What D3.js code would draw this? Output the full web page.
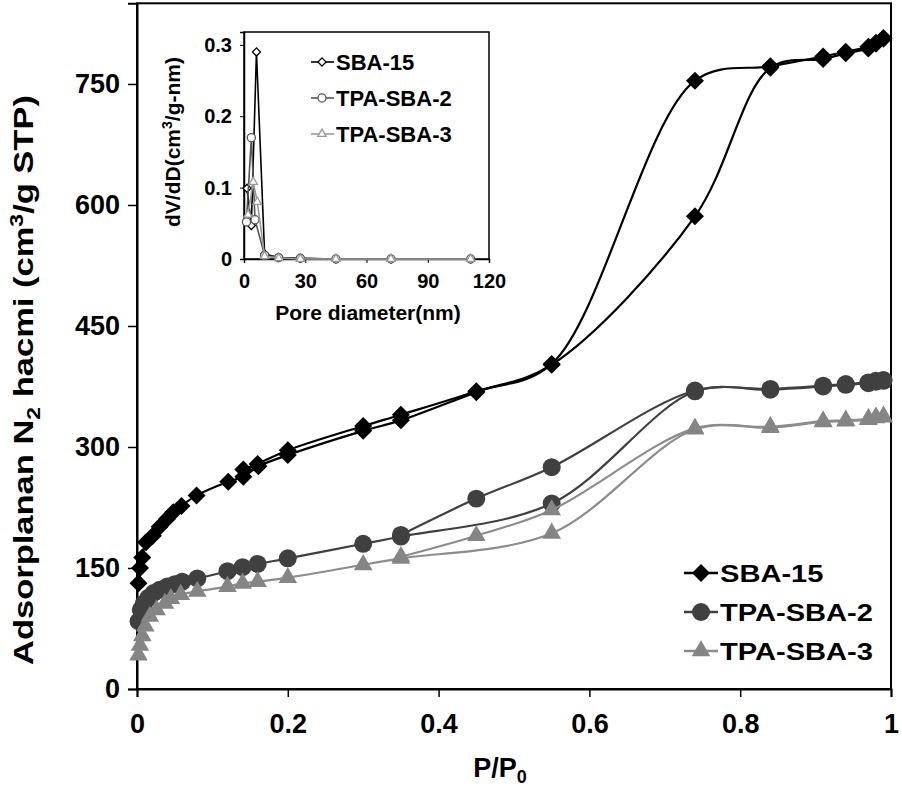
<!DOCTYPE html>
<html>
<head>
<meta charset="utf-8">
<title>N2 isotherms</title>
<script src="https://cdn.jsdelivr.net/npm/d3@7"></script>
<style>
  body { margin: 0; background: #fff; }
  text { font-family: "Liberation Sans", Arial, sans-serif; font-weight: bold; fill: #000; }
</style>
</head>
<body>
<div id="chart"></div>
<script>
// isotherm points, [P/P0, adsorbed volume]
var sba15Ads = [[0.002,131],[0.004,150],[0.007,163],[0.012,182],[0.021,190],[0.03,201],[0.04,211],[0.048,219],[0.059,227],[0.079,240],[0.121,257],[0.141,263],[0.161,276],[0.2,290],[0.3,320],[0.35,333],[0.45,368],[0.55,402],[0.74,586],[0.84,770],[0.91,781],[0.94,788],[0.97,794],[0.98,800],[0.99,806]];
var sba15Des = [[0.99,807],[0.98,801],[0.97,796],[0.94,790],[0.91,784],[0.84,772],[0.74,754],[0.55,403],[0.45,369],[0.35,340],[0.3,326],[0.2,296],[0.16,279],[0.141,272]];
var tpa2Ads = [[0.002,84],[0.005,98],[0.009,106],[0.015,113],[0.022,119],[0.03,123],[0.04,127],[0.05,130],[0.06,133],[0.08,137],[0.12,146],[0.14,151],[0.16,155],[0.2,162],[0.3,180],[0.35,189],[0.55,230],[0.74,369],[0.84,371],[0.91,375],[0.94,377],[0.97,379],[0.98,381],[0.99,382]];
var tpa2Des = [[0.99,383],[0.98,382],[0.97,380],[0.94,378],[0.91,376],[0.84,372],[0.74,370],[0.55,275],[0.45,236],[0.35,191]];
var tpa3Ads = [[0.002,42],[0.004,54],[0.007,66],[0.011,78],[0.017,90],[0.026,98],[0.037,106],[0.045,112],[0.058,117],[0.08,121],[0.12,127],[0.14,131],[0.16,133],[0.2,138],[0.3,154],[0.35,162],[0.55,193],[0.74,322],[0.84,324],[0.91,331],[0.94,332],[0.97,334],[0.98,336],[0.99,337]];
var tpa3Des = [[0.99,338],[0.98,337],[0.97,335],[0.94,333],[0.91,332],[0.84,325],[0.74,323],[0.55,222],[0.45,190],[0.35,164]];

// pore size distribution, [diameter nm, dV/dD]
var poreSba15 = [[1.5,0.099],[3.6,0.047],[6.1,0.29],[10.1,0.007],[17,0.002],[27.6,0.001],[45,0],[72,0],[111,0]];
var poreTpa2 = [[1.2,0.052],[3.6,0.17],[5.4,0.055],[10.1,0.005],[17,0.002],[27.6,0.001],[45,0],[72,0],[111,0]];
var poreTpa3 = [[2,0.062],[4.5,0.108],[6.5,0.08],[10.1,0.004],[17,0.001],[27.6,0],[45,0],[72,0],[111,0]];

var names = ["SBA-15", "TPA-SBA-2", "TPA-SBA-3"];
var xTicks = [0, 0.2, 0.4, 0.6, 0.8, 1];
var yTicks = [0, 150, 300, 450, 600, 750];
var insetXTicks = [0, 30, 60, 90, 120];
var insetYTicks = [0, 0.1, 0.2, 0.3];

var width = 902, height = 787;
var svg = d3.select("#chart").append("svg")
    .attr("width", width).attr("height", height);

var x = d3.scaleLinear().domain([0, 1]).range([137, 891]);
var y = d3.scaleLinear().domain([0, 850]).range([689, 3.3]);

var series = [
  { name: names[0], branches: [sba15Ads, sba15Des], fill: "#000", line: "#000", sym: "diamond" },
  { name: names[1], branches: [tpa2Ads, tpa2Des], fill: "#404040", line: "#404040", sym: "circle" },
  { name: names[2], branches: [tpa3Ads, tpa3Des], fill: "#858585", line: "#8c8c8c", sym: "triangle" }
];

function symPath(kind, big) {
  var k = big ? 1 : 0.45;
  if (kind == "diamond") return d3.symbol(d3.symbolSquare, 162 * k * k)();
  if (kind == "circle") return d3.symbol(d3.symbolCircle, 254 * k * k)();
  return d3.symbol(d3.symbolTriangle, 150 * k * k)();
}
function symTransform(kind, px, py) {
  return "translate(" + px + "," + py + ")" + (kind == "diamond" ? " rotate(45)" : "");
}

// frame
svg.append("rect").attr("x", 137).attr("y", 3.3).attr("width", 891 - 137).attr("height", 689 - 3.3)
    .attr("fill", "none").attr("stroke", "#000").attr("stroke-width", 2);

// axes
var xAxis = svg.append("g").attr("transform", "translate(0,689)")
    .call(d3.axisBottom(x).tickValues(xTicks).tickSize(8).tickPadding(10).tickFormat(d3.format("")));
var yAxis = svg.append("g").attr("transform", "translate(137,0)")
    .call(d3.axisLeft(y).tickValues(yTicks).tickSize(9).tickPadding(8));
[xAxis, yAxis].forEach(function (a) {
  a.select(".domain").attr("stroke", "#000").attr("stroke-width", 2);
  a.selectAll(".tick line").attr("stroke", "#000").attr("stroke-width", 1.5);
  a.selectAll(".tick text").style("font-size", "27px").attr("fill", "#000");
});
xAxis.selectAll(".tick text").attr("dy", "0.95em");

// axis titles
var xt = svg.append("text").attr("x", 500).attr("y", 777).attr("text-anchor", "middle").style("font-size", "27px");
xt.append("tspan").text("P/P");
xt.append("tspan").text("0").style("font-size", "18px").attr("dy", 6);

var yt = svg.append("text").attr("text-anchor", "middle").style("font-size", "27px")
    .attr("transform", "translate(33,380) rotate(-90)");
yt.append("tspan").text("Adsorplanan N");
yt.append("tspan").text("2").style("font-size", "18px").attr("dy", 7);
yt.append("tspan").text(" hacmi (cm").attr("dy", -7);
yt.append("tspan").text("3").style("font-size", "18px").attr("dy", -10);
yt.append("tspan").text("/g STP)").attr("dy", 10);
var ytw = yt.node().getBBox().width;
yt.attr("transform", "translate(33,380) rotate(-90) scale(" + (570 / ytw) + ",1)");

// curves + markers
var line = d3.line().x(function (d) { return x(d[0]); }).y(function (d) { return y(d[1]); })
    .curve(d3.curveCatmullRom.alpha(0.5));

series.forEach(function (s) {
  var g = svg.append("g");
  s.branches.forEach(function (b) {
    g.append("path").attr("d", line(b)).attr("fill", "none")
        .attr("stroke", s.line).attr("stroke-width", 2.2);
  });
  s.branches.forEach(function (b) {
    g.selectAll(null).data(b).enter().append("path")
        .attr("d", symPath(s.sym, true))
        .attr("transform", function (d) { return symTransform(s.sym, x(d[0]), y(d[1])); })
        .attr("fill", s.fill);
  });
});

// main legend
var legY = [573, 612, 651];
var lg = svg.append("g");
series.forEach(function (s, i) {
  lg.append("line").attr("x1", 684).attr("x2", 718).attr("y1", legY[i]).attr("y2", legY[i])
      .attr("stroke", s.line).attr("stroke-width", 2.5);
  lg.append("path").attr("d", symPath(s.sym, true))
      .attr("transform", symTransform(s.sym, 701, legY[i])).attr("fill", s.fill);
  lg.append("text").attr("class", "leg").attr("dy", "0.36em").style("font-size", "24px").text(s.name)
      .attr("transform", "translate(720," + legY[i] + ")");
});
var legW = lg.selectAll(".leg").filter(function (d, i) { return i == 1; }).node().getBBox().width;
var legK = 153 / legW;
lg.selectAll(".leg").attr("transform", function (d, i) {
  return "translate(720," + legY[i] + ") scale(" + legK + ",1)";
});

// inset: pore size distribution
var ix = d3.scaleLinear().domain([0, 120]).range([244, 489]);
var iy = d3.scaleLinear().domain([0, 0.318]).range([259, 32]);
var inset = svg.append("g");
inset.append("rect").attr("x", 244).attr("y", 32).attr("width", 489 - 244).attr("height", 259 - 32)
    .attr("fill", "#fff").attr("stroke", "#000").attr("stroke-width", 1.5);
var ixa = inset.append("g").attr("transform", "translate(0,259)")
    .call(d3.axisBottom(ix).tickValues(insetXTicks).tickSize(4).tickPadding(8));
var iya = inset.append("g").attr("transform", "translate(244,0)")
    .call(d3.axisLeft(iy).tickValues(insetYTicks).tickSize(4).tickPadding(8).tickFormat(function (d) { return d === 0 ? "0" : d3.format(".1f")(d); }));
[ixa, iya].forEach(function (a) {
  a.select(".domain").attr("stroke", "#000").attr("stroke-width", 1.5);
  a.selectAll(".tick line").attr("stroke", "#000");
  a.selectAll(".tick text").style("font-size", "20px").attr("fill", "#000");
});
ixa.selectAll(".tick text").attr("dy", "0.85em");

inset.append("text").attr("x", 368).attr("y", 320).attr("text-anchor", "middle")
    .style("font-size", "21px").text("Pore diameter(nm)");
var iyt = inset.append("text").attr("text-anchor", "middle").style("font-size", "21px")
    .attr("transform", "translate(180,142) rotate(-90)");
iyt.append("tspan").text("dV/dD(cm");
iyt.append("tspan").text("3").style("font-size", "14px").attr("dy", -8);
iyt.append("tspan").text("/g-nm)").attr("dy", 8);

var pores = [
  { data: poreSba15, color: "#000", sym: "diamond" },
  { data: poreTpa2, color: "#555", sym: "circle" },
  { data: poreTpa3, color: "#9a9a9a", sym: "triangle" }
];
var pline = d3.line().x(function (d) { return ix(d[0]); }).y(function (d) { return iy(d[1]); });
pores.forEach(function (p) {
  inset.append("path").attr("d", pline(p.data)).attr("fill", "none")
      .attr("stroke", p.color).attr("stroke-width", 1.6);
  inset.selectAll(null).data(p.data).enter().append("path")
      .attr("d", symPath(p.sym, false))
      .attr("transform", function (d) { return symTransform(p.sym, ix(d[0]), iy(d[1])); })
      .attr("fill", "#fff").attr("stroke", p.color).attr("stroke-width", 1.3);
});

// inset legend
var ilegY = [62, 98, 134];
pores.forEach(function (p, i) {
  inset.append("line").attr("x1", 311).attr("x2", 334).attr("y1", ilegY[i]).attr("y2", ilegY[i])
      .attr("stroke", p.color).attr("stroke-width", 1.6);
  inset.append("path").attr("d", symPath(p.sym, false))
      .attr("transform", symTransform(p.sym, 322, ilegY[i]))
      .attr("fill", "#fff").attr("stroke", p.color).attr("stroke-width", 1.3);
  inset.append("text").attr("x", 336).attr("y", ilegY[i]).attr("dy", "0.36em")
      .style("font-size", "22px").text(names[i]);
});
</script>
</body>
</html>
